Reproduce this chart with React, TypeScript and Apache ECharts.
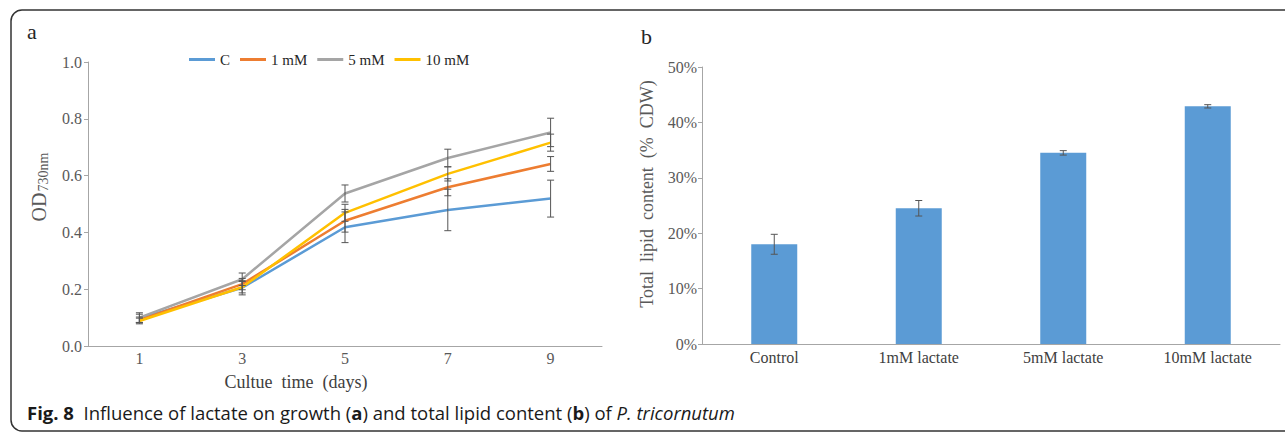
import React, { useEffect, useRef } from "react";
import * as echarts from "echarts";

const days = ["1", "3", "5", "7", "9"];
const seriesNames = ["C", "1 mM", "5 mM", "10 mM"];
const seriesColors = ["#5B9BD5", "#ED7D31", "#A5A5A5", "#FFC000"];
const odC = [0.097, 0.205, 0.418, 0.479, 0.519];
const od1 = [0.092, 0.218, 0.441, 0.559, 0.641];
const od5 = [0.1, 0.235, 0.537, 0.662, 0.752];
const od10 = [0.088, 0.207, 0.469, 0.606, 0.716];
const errC = [0.015, 0.025, 0.054, 0.073, 0.065];
const err1 = [0.01, 0.02, 0.04, 0.03, 0.026];
const err5 = [0.017, 0.022, 0.03, 0.031, 0.05];
const err10 = [0.01, 0.02, 0.03, 0.025, 0.03];
const odTicks = [0, 0.2, 0.4, 0.6, 0.8, 1.0];

const groups = ["Control", "1mM lactate", "5mM lactate", "10mM lactate"];
const lipid = [18.0, 24.5, 34.5, 42.9];
const lipidErr = [1.8, 1.4, 0.4, 0.3];
const lipidTicks = ["0%", "10%", "20%", "30%", "40%", "50%"];

const SERIF = "'Liberation Serif', 'Times New Roman', serif";
const SANS = "'Open Sans', 'Noto Sans', sans-serif";

function errRender(color: string, hw: number) {
  return (params: any, api: any) => {
    const x = api.value(0);
    const y = api.value(1);
    const e = api.value(2);
    const top = api.coord([x, y + e]);
    const bot = api.coord([x, y - e]);
    const style = { stroke: color, lineWidth: 1 };
    return {
      type: "group",
      children: [
        { type: "line", shape: { x1: top[0], y1: top[1], x2: bot[0], y2: bot[1] }, style },
        { type: "line", shape: { x1: top[0] - hw, y1: top[1], x2: top[0] + hw, y2: top[1] }, style },
        { type: "line", shape: { x1: bot[0] - hw, y1: bot[1], x2: bot[0] + hw, y2: bot[1] }, style },
      ],
    };
  };
}

export default function App() {
  const ref = useRef<HTMLDivElement>(null);
  useEffect(() => {
    if (!ref.current) return;
    const chart = echarts.init(ref.current, null, { renderer: "svg" });
    const odSeries = [odC, od1, od5, od10];
    const odErr = [errC, err1, err5, err10];
    const axisGray = "#a6a6a6";
    const labelGray = "#595959";

    const series: any[] = [];
    odSeries.forEach((vals, k) => {
      series.push({
        type: "line",
        name: seriesNames[k],
        xAxisIndex: 0,
        yAxisIndex: 0,
        data: vals,
        symbol: "none",
        lineStyle: { width: 2.5, color: seriesColors[k] },
        itemStyle: { color: seriesColors[k] },
        z: 2,
      });
    });
    odSeries.forEach((vals, k) => {
      series.push({
        type: "custom",
        name: "err" + k,
        xAxisIndex: 0,
        yAxisIndex: 0,
        renderItem: errRender("#555555", 3.5),
        data: vals.map((v, i) => [i, v, odErr[k][i]]),
        encode: { x: 0, y: 1 },
        z: 5,
        silent: true,
      });
    });
    series.push({
      type: "bar",
      name: "lipid",
      xAxisIndex: 1,
      yAxisIndex: 1,
      data: lipid,
      barWidth: 46,
      itemStyle: { color: "#5B9BD5" },
    });
    series.push({
      type: "custom",
      name: "lipidErr",
      xAxisIndex: 1,
      yAxisIndex: 1,
      renderItem: errRender("#555555", 3.5),
      data: lipid.map((v, i) => [i, v, lipidErr[i]]),
      encode: { x: 0, y: 1 },
      z: 5,
      silent: true,
    });

    chart.setOption({
      animation: false,
      backgroundColor: "#ffffff",
      legend: {
        data: seriesNames,
        left: 184,
        top: 47,
        icon: "rect",
        itemWidth: 26,
        itemHeight: 3,
        itemGap: 10,
        textStyle: { fontFamily: SERIF, fontSize: 15, color: "#262626" },
      },
      grid: [
        { left: 88, top: 62, width: 514, height: 284 },
        { left: 702, top: 67, width: 578, height: 277 },
      ],
      xAxis: [
        {
          type: "category",
          gridIndex: 0,
          data: days,
          boundaryGap: true,
          axisLine: { lineStyle: { color: axisGray, width: 1 } },
          axisTick: { show: false },
          axisLabel: { fontFamily: SERIF, fontSize: 16, color: labelGray, margin: 4 },
        },
        {
          type: "category",
          gridIndex: 1,
          data: groups,
          axisLine: { lineStyle: { color: axisGray, width: 1 } },
          axisTick: { show: false },
          axisLabel: { fontFamily: SERIF, fontSize: 16, color: "#404040", margin: 5 },
        },
      ],
      yAxis: [
        {
          type: "value",
          gridIndex: 0,
          min: odTicks[0],
          max: odTicks[odTicks.length - 1],
          interval: 0.2,
          axisLine: { show: true, lineStyle: { color: axisGray, width: 1 } },
          axisTick: { show: true, length: 4, lineStyle: { color: axisGray } },
          splitLine: { show: false },
          axisLabel: {
            fontFamily: SERIF,
            fontSize: 16,
            color: labelGray,
            margin: 6,
            formatter: (v: number) => v.toFixed(1),
          },
        },
        {
          type: "value",
          gridIndex: 1,
          min: 0,
          max: 50,
          interval: 10,
          axisLine: { show: true, lineStyle: { color: axisGray, width: 1 } },
          axisTick: { show: true, length: 4, lineStyle: { color: axisGray } },
          splitLine: { show: false },
          axisLabel: {
            fontFamily: SERIF,
            fontSize: 16,
            color: labelGray,
            margin: 5,
            formatter: (v: number) => lipidTicks[Math.round(v / 10)],
          },
        },
      ],
      graphic: [
        {
          type: "rect",
          shape: { x: 11, y: 10, width: 1320, height: 421, r: 11 },
          style: { fill: "none", stroke: "#333333", lineWidth: 1.5 },
          silent: true,
        },
        {
          type: "text",
          x: 27,
          y: 31,
          style: { text: "a", font: `22px ${SERIF}`, fill: "#262626", textAlign: "left", textVerticalAlign: "middle" },
        },
        {
          type: "text",
          x: 641,
          y: 36,
          style: { text: "b", font: `22px ${SERIF}`, fill: "#262626", textAlign: "left", textVerticalAlign: "middle" },
        },
        {
          type: "text",
          x: 38.5,
          y: 207,
          rotation: Math.PI / 2,
          style: { text: "OD", font: `20px ${SERIF}`, fill: labelGray, textAlign: "center", textVerticalAlign: "middle" },
        },
        {
          type: "text",
          x: 43,
          y: 172,
          rotation: Math.PI / 2,
          style: { text: "730nm", font: `14px ${SERIF}`, fill: labelGray, textAlign: "center", textVerticalAlign: "middle" },
        },
        {
          type: "text",
          x: 647,
          y: 194,
          rotation: Math.PI / 2,
          style: {
            text: "Total  lipid  content  (%  CDW)",
            font: `18px ${SERIF}`,
            fill: labelGray,
            textAlign: "center",
            textVerticalAlign: "middle",
          },
        },
        {
          type: "text",
          x: 296,
          y: 382,
          style: {
            text: "Cultue  time  (days)",
            font: `18px ${SERIF}`,
            fill: "#404040",
            textAlign: "center",
            textVerticalAlign: "middle",
          },
        },
        {
          type: "text",
          x: 27,
          y: 412,
          style: {
            text: "{b|Fig. 8}{n|  Influence of lactate on growth (}{b|a}{n|) and total lipid content (}{b|b}{n|) of }{i|P. tricornutum}",
            textVerticalAlign: "middle",
            rich: {
              b: { fontFamily: SANS, fontSize: 18.5, fontWeight: "bold", fill: "#1a1a1a" },
              n: { fontFamily: SANS, fontSize: 18.5, fill: "#1a1a1a" },
              i: { fontFamily: SANS, fontSize: 18.5, fontStyle: "italic", fill: "#1a1a1a" },
            },
          },
        },
      ],
      series,
    });
    return () => chart.dispose();
  }, []);
  return (
    <div
      ref={ref}
      style={{ position: "fixed", left: 0, top: 0, width: 1285, height: 433, background: "#fff" }}
    />
  );
}
